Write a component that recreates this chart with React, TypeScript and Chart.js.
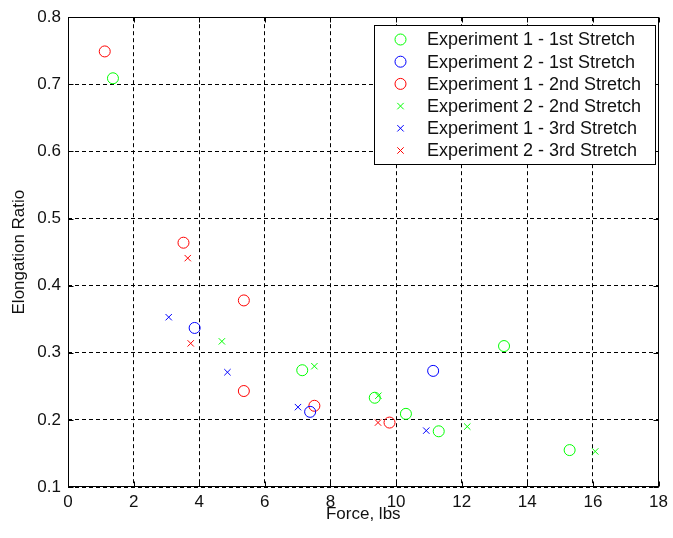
import React, { useEffect, useRef } from 'react';
import { Chart, registerables } from 'chart.js';

Chart.register(...registerables);

// ---- data ----
const seriesLabels = [
  'Experiment 1 - 1st Stretch',
  'Experiment 2 - 1st Stretch',
  'Experiment 1 - 2nd Stretch',
  'Experiment 2 - 2nd Stretch',
  'Experiment 1 - 3rd Stretch',
  'Experiment 2 - 3rd Stretch',
];
const seriesColors = ['#00ff00', '#0000ff', '#ff0000', '#00ff00', '#0000ff', '#ff0000'];
const seriesMarkers = ['circle', 'circle', 'circle', 'crossRot', 'crossRot', 'crossRot'];

const exp1FirstX = [1.37, 7.14, 9.35, 10.3, 11.3, 13.29, 15.29];
const exp1FirstY = [0.709, 0.274, 0.233, 0.209, 0.183, 0.31, 0.155];

const exp2FirstX = [3.86, 7.38, 11.13];
const exp2FirstY = [0.337, 0.212, 0.273];

const exp1SecondX = [1.12, 3.52, 5.36, 5.36, 7.51, 9.8];
const exp1SecondY = [0.749, 0.464, 0.378, 0.243, 0.221, 0.196];

const exp2SecondX = [4.69, 7.51, 9.46, 12.17, 16.07];
const exp2SecondY = [0.317, 0.28, 0.236, 0.19, 0.153];

const exp1ThirdX = [3.07, 4.86, 7.01, 10.92];
const exp1ThirdY = [0.353, 0.271, 0.219, 0.184];

const exp2ThirdX = [3.65, 3.74, 9.45];
const exp2ThirdY = [0.441, 0.314, 0.196];

const seriesX = [exp1FirstX, exp2FirstX, exp1SecondX, exp2SecondX, exp1ThirdX, exp2ThirdX];
const seriesY = [exp1FirstY, exp2FirstY, exp1SecondY, exp2SecondY, exp1ThirdY, exp2ThirdY];

const xMin = 0, xMax = 18, xStep = 2;
const yMin = 0.1, yMax = 0.8, yStep = 0.1;
const xTitle = 'Force, lbs';
const yTitle = 'Elongation Ratio';

const FONT = "'Liberation Sans', Arial, sans-serif";
const TEXT = '#111';

function drawMarker(ctx: CanvasRenderingContext2D, style: string, x: number, y: number, color: string) {
  ctx.save();
  ctx.strokeStyle = color;
  ctx.lineWidth = 1;
  ctx.beginPath();
  if (style === 'circle') {
    ctx.arc(x, y, 5.5, 0, Math.PI * 2);
  } else {
    const d = 3.2;
    ctx.moveTo(x - d, y - d);
    ctx.lineTo(x + d, y + d);
    ctx.moveTo(x - d, y + d);
    ctx.lineTo(x + d, y - d);
  }
  ctx.stroke();
  ctx.restore();
}

const framePlugin = {
  id: 'frame',
  afterDatasetsDraw(chart: any) {
    const { ctx, chartArea: a, scales } = chart;
    ctx.save();
    ctx.strokeStyle = '#000';
    ctx.lineWidth = 1;
    const L = Math.round(a.left) + 0.5, R = Math.round(a.right) - 0.5;
    const T = Math.round(a.top) + 0.5, B = Math.round(a.bottom) - 0.5;
    ctx.strokeRect(L, T, R - L, B - T);
    const tl = 5;
    ctx.beginPath();
    scales.x.ticks.forEach((t: any) => {
      const px = Math.round(scales.x.getPixelForValue(t.value)) + 0.5;
      ctx.moveTo(px, B); ctx.lineTo(px, B - tl);
      ctx.moveTo(px, T); ctx.lineTo(px, T + tl);
    });
    scales.y.ticks.forEach((t: any) => {
      const py = Math.round(scales.y.getPixelForValue(t.value)) + 0.5;
      ctx.moveTo(L, py); ctx.lineTo(L + tl, py);
      ctx.moveTo(R, py); ctx.lineTo(R - tl, py);
    });
    ctx.stroke();
    ctx.restore();
  },
  afterDraw(chart: any) {
    const { ctx } = chart;
    const bx = 374.5, by = 25.5, bw = 281, bh = 139;
    ctx.save();
    ctx.fillStyle = '#fff';
    ctx.fillRect(bx, by, bw, bh);
    ctx.strokeStyle = '#000';
    ctx.lineWidth = 1;
    ctx.strokeRect(bx, by, bw, bh);
    ctx.font = `18px ${FONT}`;
    ctx.fillStyle = TEXT;
    ctx.textBaseline = 'middle';
    ctx.textAlign = 'left';
    chart.data.datasets.forEach((ds: any, i: number) => {
      const cy = 39.5 + i * 22.2;
      drawMarker(ctx, ds.pointStyle, 400.5, cy, ds.borderColor);
      ctx.fillText(ds.label, 427, cy + 1);
    });
    ctx.restore();
  },
};

export default function App() {
  const ref = useRef<HTMLCanvasElement>(null);
  useEffect(() => {
    if (!ref.current) return;
    const datasets = seriesLabels.map((label, i) => ({
      label,
      data: seriesX[i].map((x, j) => ({ x, y: seriesY[i][j] })),
      showLine: false,
      pointStyle: seriesMarkers[i],
      pointRadius: seriesMarkers[i] === 'circle' ? 5.5 : 4.5,
      pointBorderWidth: 1,
      borderColor: seriesColors[i],
      backgroundColor: 'transparent',
      pointBackgroundColor: 'transparent',
      pointBorderColor: seriesColors[i],
    }));
    const chart = new Chart(ref.current, {
      type: 'scatter',
      data: { datasets },
      options: {
        animation: false,
        responsive: false,
        devicePixelRatio: 1,
        layout: { padding: { top: 16, right: 9, left: 0, bottom: 0 } },
        plugins: { legend: { display: false }, tooltip: { enabled: false } },
        scales: {
          x: {
            type: 'linear',
            min: xMin,
            max: xMax,
            ticks: { stepSize: xStep, padding: 5, color: TEXT, font: { size: 17, family: FONT } },
            grid: { color: '#000', lineWidth: 1, drawTicks: false },
            border: { display: false, dash: [4, 3] },
            title: {
              display: true,
              text: xTitle,
              color: TEXT,
              font: { size: 17, family: FONT },
              padding: { top: 0, bottom: 13 },
            },
            afterFit: (s: any) => { s.height = 51; },
          },
          y: {
            type: 'linear',
            min: yMin,
            max: yMax,
            ticks: {
              stepSize: yStep,
              padding: 7,
              color: TEXT,
              font: { size: 17, family: FONT },
              callback: (v: any) => Number(v).toFixed(1),
            },
            grid: { color: '#000', lineWidth: 1, drawTicks: false },
            border: { display: false, dash: [4, 3] },
            title: {
              display: true,
              text: yTitle,
              color: TEXT,
              font: { size: 17, family: FONT },
              padding: { top: 9, bottom: 0 },
            },
            afterFit: (s: any) => { s.width = 68; },
          },
        },
      } as any,
      plugins: [framePlugin],
    });
    return () => chart.destroy();
  }, []);
  return (
    <div style={{ position: 'fixed', left: 0, top: 0, width: 673, height: 538, background: '#fff' }}>
      <canvas ref={ref} width={673} height={538} style={{ display: 'block' }} />
    </div>
  );
}
